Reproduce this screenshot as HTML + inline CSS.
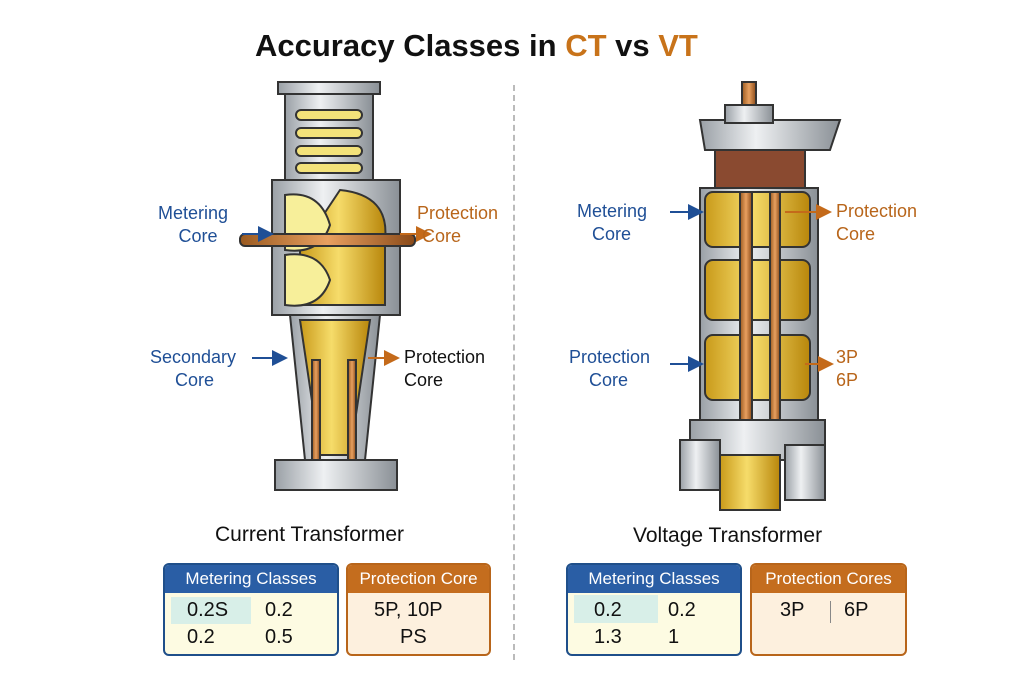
<!DOCTYPE html>
<html><head><meta charset="utf-8"><style>
body{margin:0;width:1024px;height:683px;background:#fff;overflow:hidden;font-family:"Liberation Sans",sans-serif;position:relative}
.t{position:absolute;white-space:nowrap}
.box{position:absolute;border:2px solid;border-radius:6px;overflow:hidden;box-sizing:border-box}
.hd{color:#fff;font-size:17px;text-align:center;height:28px;line-height:28px}
.c{position:absolute;font-size:20px;color:#111}
</style></head><body>
<div class="t" style="left:255px;top:28px;font-size:31px;font-weight:bold;color:#111">Accuracy Classes in <span style="color:#c8731a">CT</span> vs <span style="color:#c8731a">VT</span></div>
<div style="position:absolute;left:513px;top:85px;height:575px;border-left:2px dashed #bbb"></div>

<svg width="1024" height="683" style="position:absolute;left:0;top:0">
<defs>
<linearGradient id="g" x1="0" x2="1"><stop offset="0" stop-color="#9aa0a6"/><stop offset=".4" stop-color="#eef0f2"/><stop offset="1" stop-color="#8a9096"/></linearGradient>
<linearGradient id="y" x1="0" x2="1"><stop offset="0" stop-color="#c99a1a"/><stop offset=".45" stop-color="#f6dc6a"/><stop offset="1" stop-color="#b8860b"/></linearGradient>
<linearGradient id="cu" x1="0" x2="1"><stop offset="0" stop-color="#9a5a20"/><stop offset=".5" stop-color="#e8a060"/><stop offset="1" stop-color="#8a4a18"/></linearGradient>
<marker id="ab" markerWidth="8" markerHeight="8" refX="6" refY="4" orient="auto"><path d="M0,0L8,4L0,8z" fill="#1f4f96"/></marker>
<marker id="ao" markerWidth="8" markerHeight="8" refX="6" refY="4" orient="auto"><path d="M0,0L8,4L0,8z" fill="#c46a1a"/></marker>
</defs>
<g stroke="#333" stroke-width="2">
<rect x="285" y="88" width="88" height="95" fill="url(#g)"/>
<rect x="278" y="82" width="102" height="12" fill="url(#g)"/>
<g fill="#f3e27a"><rect x="296" y="110" width="66" height="10" rx="5"/><rect x="296" y="128" width="66" height="10" rx="5"/><rect x="296" y="146" width="66" height="10" rx="5"/><rect x="296" y="163" width="66" height="10" rx="5"/></g>
<rect x="272" y="180" width="128" height="135" fill="url(#g)"/>
<path d="M340 190 Q390 195 385 240 L385 305 L300 305 L300 250 Z" fill="url(#y)"/>
<path d="M285 195 Q320 190 330 225 Q320 255 285 250 Z" fill="#f7ef9a"/>
<path d="M285 255 Q320 250 330 280 Q320 310 285 305 Z" fill="#f7ef9a"/>
<rect x="240" y="234" width="175" height="12" rx="5" fill="url(#cu)"/>
<path d="M290 315 L380 315 L365 460 L305 460 Z" fill="url(#g)"/>
<path d="M300 320 L370 320 L350 455 L320 455 Z" fill="url(#y)"/>
<rect x="312" y="360" width="8" height="100" fill="url(#cu)"/><rect x="348" y="360" width="8" height="100" fill="url(#cu)"/>
<rect x="275" y="460" width="122" height="30" fill="url(#g)"/>
<rect x="742" y="82" width="14" height="30" fill="url(#cu)"/>
<path d="M700 120 L840 120 L830 150 L705 150 Z" fill="url(#g)"/>
<rect x="725" y="105" width="48" height="18" fill="url(#g)"/>
<rect x="715" y="150" width="90" height="40" fill="#8a4a30"/>
<rect x="700" y="188" width="118" height="232" fill="url(#g)"/>
<rect x="705" y="192" width="105" height="55" rx="8" fill="url(#y)"/>
<rect x="705" y="260" width="105" height="60" rx="8" fill="url(#y)"/>
<rect x="705" y="335" width="105" height="65" rx="8" fill="url(#y)"/>
<rect x="740" y="192" width="12" height="228" fill="url(#cu)"/>
<rect x="770" y="192" width="10" height="228" fill="url(#cu)"/>
<rect x="690" y="420" width="135" height="40" fill="url(#g)"/>
<rect x="680" y="440" width="40" height="50" fill="url(#g)"/>
<rect x="720" y="455" width="60" height="55" fill="url(#y)"/>
<rect x="785" y="445" width="40" height="55" fill="url(#g)"/>
</g>
<g stroke-width="2" fill="none">
<line x1="242" y1="234" x2="270" y2="234" stroke="#1f4f96" marker-end="url(#ab)"/>
<line x1="400" y1="234" x2="428" y2="234" stroke="#c46a1a" marker-end="url(#ao)"/>
<line x1="252" y1="358" x2="284" y2="358" stroke="#1f4f96" marker-end="url(#ab)"/>
<line x1="368" y1="358" x2="396" y2="358" stroke="#c46a1a" marker-end="url(#ao)"/>
<line x1="670" y1="212" x2="700" y2="212" stroke="#1f4f96" marker-end="url(#ab)"/>
<line x1="785" y1="212" x2="828" y2="212" stroke="#c46a1a" marker-end="url(#ao)"/>
<line x1="670" y1="364" x2="700" y2="364" stroke="#1f4f96" marker-end="url(#ab)"/>
<line x1="805" y1="364" x2="830" y2="364" stroke="#c46a1a" marker-end="url(#ao)"/>
</g>
</svg>

<div class="t" style="left:158px;top:202px;font-size:18px;color:#1f4f96;text-align:center;line-height:23px">Metering<br>&nbsp;&nbsp;Core</div>
<div class="t" style="left:417px;top:202px;font-size:18px;color:#b8651a;line-height:23px">Protection<br>&nbsp;Core</div>
<div class="t" style="left:150px;top:346px;font-size:18px;color:#1f4f96;line-height:23px">Secondary<br>&nbsp;&nbsp;&nbsp;&nbsp;&nbsp;Core</div>
<div class="t" style="left:404px;top:346px;font-size:18px;color:#111;line-height:23px">Protection<br>Core</div>
<div class="t" style="left:577px;top:200px;font-size:18px;color:#1f4f96;line-height:23px">Metering<br>&nbsp;&nbsp;&nbsp;Core</div>
<div class="t" style="left:836px;top:200px;font-size:18px;color:#b8651a;line-height:23px">Protection<br>Core</div>
<div class="t" style="left:569px;top:346px;font-size:18px;color:#1f4f96;line-height:23px">Protection<br>&nbsp;&nbsp;&nbsp;&nbsp;Core</div>
<div class="t" style="left:836px;top:346px;font-size:18px;color:#b8651a;line-height:23px">3P<br>6P</div>

<div class="t" style="left:215px;top:523px;font-size:21px;color:#111">Current Transformer</div>
<div class="t" style="left:633px;top:524px;font-size:21px;color:#111">Voltage Transformer</div>

<div class="box" style="left:163px;top:563px;width:176px;height:93px;border-color:#1f4f8a;background:#fdfbe2">
<div class="hd" style="background:#2a5ea5">Metering Classes</div>
<div style="position:absolute;left:6px;top:32px;width:80px;height:27px;background:#d8efe8"></div>
<div class="c" style="left:22px;top:34px">0.2S</div><div class="c" style="left:100px;top:34px">0.2</div>
<div class="c" style="left:22px;top:61px">0.2</div><div class="c" style="left:100px;top:61px">0.5</div>
</div>
<div class="box" style="left:346px;top:563px;width:145px;height:93px;border-color:#b8651a;background:#fdf0de">
<div class="hd" style="background:#c46d1e">Protection Core</div>
<div class="c" style="left:26px;top:34px">5P, 10P</div><div class="c" style="left:52px;top:61px">PS</div>
</div>
<div class="box" style="left:566px;top:563px;width:176px;height:93px;border-color:#1f4f8a;background:#fdfbe2">
<div class="hd" style="background:#2a5ea5">Metering Classes</div>
<div style="position:absolute;left:6px;top:30px;width:84px;height:28px;background:#d8efe8"></div>
<div class="c" style="left:26px;top:34px">0.2</div><div class="c" style="left:100px;top:34px">0.2</div>
<div class="c" style="left:26px;top:61px">1.3</div><div class="c" style="left:100px;top:61px">1</div>
</div>
<div class="box" style="left:750px;top:563px;width:157px;height:93px;border-color:#b8651a;background:#fdf0de">
<div class="hd" style="background:#c46d1e">Protection Cores</div>
<div class="c" style="left:28px;top:34px">3P</div>
<div style="position:absolute;left:78px;top:36px;height:22px;border-left:1px solid #888"></div>
<div class="c" style="left:92px;top:34px">6P</div>
</div>
</body></html>
